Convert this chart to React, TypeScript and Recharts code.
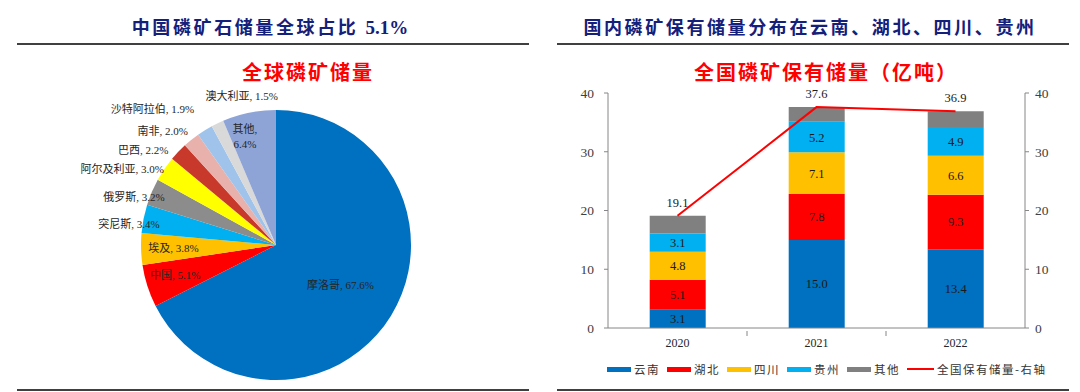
import React from 'react';
import { PieChart, Pie, Cell, ComposedChart, Bar, Line, XAxis, YAxis, LabelList } from 'recharts';

// 全球磷矿储量（%）
const countries = ['摩洛哥', '中国', '埃及', '突尼斯', '俄罗斯', '阿尔及利亚', '巴西', '南非', '沙特阿拉伯', '澳大利亚', '其他'];
const shares = [67.6, 5.1, 3.8, 3.4, 3.2, 3.0, 2.2, 2.0, 1.9, 1.5, 6.4];
const pieColors = ['#0070C0', '#FF0000', '#FFC000', '#00B0F0', '#8C8C8C', '#FFFF00', '#C9392B', '#E8B1AC', '#9FC3EA', '#D9D9D9', '#8EA4D6'];

// 全国磷矿保有储量（亿吨）
const years = ['2020', '2021', '2022'];
const yunnan = [3.1, 15.0, 13.4];
const hubei = [5.1, 7.8, 9.3];
const sichuan = [4.8, 7.1, 6.6];
const guizhou = [3.1, 5.2, 4.9];
const others = [3.0, 2.5, 2.7];
const totals = [19.1, 37.6, 36.9];
const yTicks = [0, 10, 20, 30, 40];

// label placement around the pie: radius factor & angle shift (deg)
const pieLabelPlacement = [
  { r: 0.56, shift: 0 },
  { r: 0.78, shift: -1 },
  { r: 0.76, shift: 0 },
  { r: 1.1, shift: 3 },
  { r: 1.11, shift: 4.5 },
  { r: 1.27, shift: 8 },
  { r: 1.21, shift: 8 },
  { r: 1.19, shift: 6 },
  { r: 1.36, shift: 10.5 },
  { r: 1.13, shift: -12.7 },
  { r: 0.84, shift: 4.4 },
];

const pieData = countries.map((name, i) => ({ name, value: shares[i] }));
const barData = years.map((year, i) => ({
  year,
  yunnan: yunnan[i],
  hubei: hubei[i],
  sichuan: sichuan[i],
  guizhou: guizhou[i],
  others: others[i],
  total: totals[i],
}));

const serif = '"Liberation Serif", "Noto Sans CJK SC", serif';
const navy = '#14207a';

const renderPieLabel = (props: any) => {
  const { cx, cy, midAngle, outerRadius, index, name, value } = props;
  const p = pieLabelPlacement[index];
  const a = ((midAngle + p.shift) * Math.PI) / 180;
  const x = cx + outerRadius * p.r * Math.cos(a);
  const y = cy - outerRadius * p.r * Math.sin(a);
  const style = { fontFamily: serif, fontSize: 11, fill: '#262626' };
  if (name === '其他') {
    return (
      <text x={x} y={y} textAnchor="middle" style={style}>
        <tspan x={x} dy={-3}>{name},</tspan>
        <tspan x={x} dy={15}>{value.toFixed(1)}%</tspan>
      </text>
    );
  }
  return (
    <text x={x} y={y} textAnchor="middle" dominantBaseline="central" style={style}>
      {`${name}, ${value.toFixed(1)}%`}
    </text>
  );
};

const YearTick = (props: any) => {
  const { x, y, payload, index } = props;
  const half = 69.5;
  return (
    <g>
      {index < years.length - 1 && (
        <line x1={x + half} x2={x + half} y1={y} y2={y - 5} stroke="#868686" />
      )}
      <text x={x} y={y + 11} textAnchor="middle" style={{ fontFamily: serif, fontSize: 12, fill: '#262626' }}>
        {payload.value}
      </text>
    </g>
  );
};

const legendItems = [
  { label: '云南', color: '#0070C0', line: false },
  { label: '湖北', color: '#FF0000', line: false },
  { label: '四川', color: '#FFC000', line: false },
  { label: '贵州', color: '#00B0F0', line: false },
  { label: '其他', color: '#808080', line: false },
  { label: '全国保有储量-右轴', color: '#FF0000', line: true },
];

const Title = ({ text, tail, left, width }: { text: string; tail?: string; left: number; width: number }) => (
  <>
    <div
      style={{
        position: 'absolute',
        left,
        width,
        top: 16,
        textAlign: 'center',
        fontFamily: serif,
        fontWeight: 700,
        fontSize: 18,
        letterSpacing: 2.6,
        color: navy,
        lineHeight: '24px',
      }}
    >
      {text}
      {tail && <span style={{ letterSpacing: 0, fontSize: 19 }}>{tail}</span>}
    </div>
    <div style={{ position: 'absolute', left: left + 17, width: width - 28, top: 43, height: 2, background: '#404040' }} />
    <div style={{ position: 'absolute', left: left + 17, width: width - 28, top: 389, height: 2, background: '#404040' }} />
  </>
);

const RedTitle = ({ text, center }: { text: string; center: number }) => (
  <div
    style={{
      position: 'absolute',
      left: center - 200,
      width: 400,
      top: 60,
      textAlign: 'center',
      fontFamily: '"Noto Sans CJK SC", sans-serif',
      fontWeight: 700,
      fontSize: 20,
      letterSpacing: 2,
      color: '#FF0000',
      lineHeight: '24px',
    }}
  >
    {text}
  </div>
);

const barLabelStyle = { fontFamily: serif, fontSize: 12.5, fill: '#1a1a1a' };
const axisTick = { fontFamily: serif, fontSize: 13.5, fill: '#404040' };

export default function App() {
  return (
    <div style={{ position: 'absolute', left: 0, top: 0, width: 1080, height: 392, background: '#fff', overflow: 'hidden' }}>
      <Title text="中国磷矿石储量全球占比 " tail="5.1%" left={0} width={540} />
      <Title text="国内磷矿保有储量分布在云南、湖北、四川、贵州" left={540} width={540} />
      <RedTitle text="全球磷矿储量" center={308} />
      <RedTitle text="全国磷矿保有储量（亿吨）" center={826} />

      <div style={{ position: 'absolute', left: 0, top: 0 }}>
        <PieChart width={540} height={392} margin={{ top: 0, right: 0, bottom: 0, left: 0 }}>
          <Pie
            data={pieData}
            dataKey="value"
            nameKey="name"
            cx={276}
            cy={245}
            outerRadius={135}
            startAngle={90}
            endAngle={-270}
            stroke="none"
            label={renderPieLabel}
            labelLine={false}
            isAnimationActive={false}
          >
            {pieData.map((d, i) => (
              <Cell key={d.name} fill={pieColors[i]} />
            ))}
          </Pie>
        </PieChart>
      </div>

      <div style={{ position: 'absolute', left: 540, top: 0 }}>
        <ComposedChart
          width={540}
          height={392}
          data={barData}
          margin={{ top: 93, right: 0, bottom: 34, left: 0 }}
          barCategoryGap="30%"
        >
          <XAxis
            dataKey="year"
            xAxisId={0}
            height={30}
            interval={0}
            axisLine={{ stroke: '#868686' }}
            tickLine={false}
            tick={<YearTick />}
          />
          <YAxis
            yAxisId="left"
            width={68}
            domain={[0, 40]}
            ticks={yTicks}
            axisLine={{ stroke: '#868686' }}
            tickLine={{ stroke: '#868686' }}
            tickSize={4}
            tickMargin={10}
            tick={axisTick}
          />
          <YAxis
            yAxisId="right"
            orientation="right"
            width={55}
            domain={[0, 40]}
            ticks={yTicks}
            axisLine={{ stroke: '#868686' }}
            tickLine={{ stroke: '#868686' }}
            tickSize={4}
            tickMargin={6}
            tick={axisTick}
          />
          <Bar dataKey="yunnan" stackId="a" yAxisId="left" fill="#0070C0" isAnimationActive={false}>
            <LabelList dataKey="yunnan" position="center" formatter={(v: any) => Number(v).toFixed(1)} style={barLabelStyle} />
          </Bar>
          <Bar dataKey="hubei" stackId="a" yAxisId="left" fill="#FF0000" isAnimationActive={false}>
            <LabelList dataKey="hubei" position="center" formatter={(v: any) => Number(v).toFixed(1)} style={barLabelStyle} />
          </Bar>
          <Bar dataKey="sichuan" stackId="a" yAxisId="left" fill="#FFC000" isAnimationActive={false}>
            <LabelList dataKey="sichuan" position="center" formatter={(v: any) => Number(v).toFixed(1)} style={barLabelStyle} />
          </Bar>
          <Bar dataKey="guizhou" stackId="a" yAxisId="left" fill="#00B0F0" isAnimationActive={false}>
            <LabelList dataKey="guizhou" position="center" formatter={(v: any) => Number(v).toFixed(1)} style={barLabelStyle} />
          </Bar>
          <Bar dataKey="others" stackId="a" yAxisId="left" fill="#808080" isAnimationActive={false} />
          <Line
            dataKey="total"
            yAxisId="right"
            type="linear"
            stroke="#FF0000"
            strokeWidth={2}
            dot={false}
            isAnimationActive={false}
          >
            <LabelList dataKey="total" position="top" offset={9} formatter={(v: any) => Number(v).toFixed(1)} style={barLabelStyle} />
          </Line>
        </ComposedChart>
      </div>

      <div style={{ position: 'absolute', left: 607, top: 361, display: 'flex', alignItems: 'center', height: 16 }}>
        {legendItems.map((it) => (
          <div key={it.label} style={{ display: 'flex', alignItems: 'center', marginRight: it.line ? 0 : 8 }}>
            <span
              style={{
                display: 'inline-block',
                width: it.line ? 27 : 24,
                height: it.line ? 2 : 5,
                background: it.color,
                marginRight: 3,
              }}
            />
            <span
              style={{
                fontFamily: '"Noto Sans CJK SC", sans-serif',
                fontSize: 11.5,
                letterSpacing: 1.5,
                color: '#333',
                width: it.line ? 'auto' : 25,
                whiteSpace: 'nowrap',
              }}
            >
              {it.label}
            </span>
          </div>
        ))}
      </div>
    </div>
  );
}
